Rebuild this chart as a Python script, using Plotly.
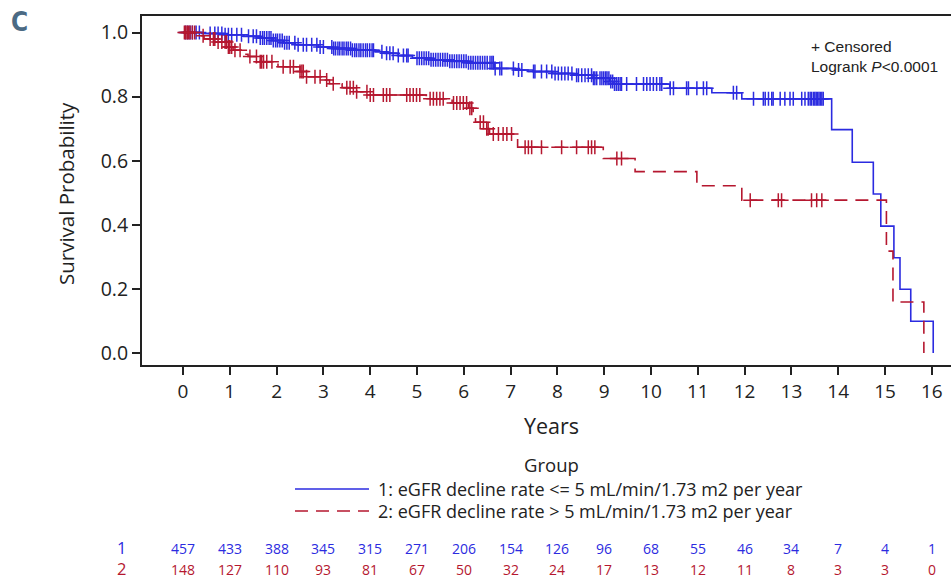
import plotly.graph_objects as go
import numpy as np

# ---------------- data ----------------
years_ticks = list(range(0, 17))

# Group 1 (eGFR decline <= 5): step times and survival levels
g1_times = [0, 0.4, 0.9, 1.3, 1.65, 1.9, 2.15, 2.4, 2.9, 3.2, 3.6, 4.1, 4.3, 4.6, 4.9, 5.3, 5.7, 6.1,
            6.65, 7.1, 7.48, 7.9, 8.33, 8.76, 9.12, 9.19, 10.4, 11.3, 11.94, 13.86, 14.30, 14.75,
            14.91, 15.19, 15.32, 15.55, 16.03]
g1_surv = [1.0, 0.997, 0.993, 0.988, 0.983, 0.975, 0.968, 0.962, 0.955, 0.95, 0.945, 0.94, 0.935,
           0.928, 0.92, 0.915, 0.91, 0.906, 0.888, 0.883, 0.878, 0.872, 0.867, 0.857, 0.847, 0.839,
           0.826, 0.812, 0.793, 0.697, 0.595, 0.496, 0.396, 0.297, 0.199, 0.099, 0.0]
g1_censored = [0.05, 0.10, 0.15, 0.20, 0.28, 0.35, 0.58, 0.68, 0.75, 0.83, 0.90, 0.97, 1.04, 1.15,
               1.25, 1.40, 1.50, 1.57, 1.65, 1.70, 1.74, 1.79, 1.84, 1.88, 1.93, 1.98, 2.02, 2.07,
               2.12, 2.17, 2.22, 2.27, 2.39, 2.46, 2.57, 2.64, 2.75, 2.86, 2.93, 3.00, 3.18, 3.22,
               3.26, 3.31, 3.35, 3.40, 3.44, 3.49, 3.53, 3.58, 3.62, 3.67, 3.71, 3.76, 3.80, 3.85,
               3.90, 3.94, 3.99, 4.04, 4.07, 4.25, 4.35, 4.42, 4.49, 4.60, 4.71, 4.78, 4.81, 5.00,
               5.05, 5.10, 5.15, 5.20, 5.25, 5.30, 5.35, 5.40, 5.45, 5.50, 5.55, 5.60, 5.65, 5.70,
               5.75, 5.80, 5.85, 5.90, 5.95, 6.00, 6.05, 6.10, 6.15, 6.20, 6.25, 6.30, 6.35, 6.40,
               6.45, 6.50, 6.56, 6.60, 6.63, 6.67, 6.77, 6.81, 7.06, 7.17, 7.24, 7.49, 7.52, 7.66,
               7.77, 7.88, 7.95, 8.02, 8.09, 8.16, 8.23, 8.31, 8.41, 8.45, 8.52, 8.59, 8.66, 8.73,
               8.77, 8.80, 8.84, 8.91, 8.95, 8.99, 9.03, 9.06, 9.10, 9.14, 9.18, 9.22, 9.26, 9.30,
               9.34, 9.37, 9.48, 9.69, 9.84, 9.91, 9.98, 10.05, 10.12, 10.19, 10.23, 10.41, 10.48,
               10.76, 10.80, 10.98, 11.12, 11.19, 11.76, 11.83, 12.19, 12.40, 12.44, 12.51, 12.58,
               12.61, 12.76, 12.86, 12.97, 13.04, 13.22, 13.29, 13.36, 13.40, 13.43, 13.47, 13.50,
               13.53, 13.56, 13.59, 13.62, 13.65, 13.68]

# Group 2 (eGFR decline > 5)
g2_times = [0, 0.3, 0.45, 0.7, 0.95, 1.07, 1.3, 1.39, 1.65, 2.03, 2.5, 2.64, 3.0, 3.13, 3.4, 3.71,
            4.0, 5.2, 5.75, 6.1, 6.2, 6.25, 6.45, 6.55, 7.15, 8.98, 9.66, 10.98, 11.94, 15.03,
            15.17, 15.83]
g2_surv = [1.0, 0.99, 0.98, 0.97, 0.955, 0.945, 0.932, 0.925, 0.909, 0.893, 0.878, 0.862, 0.852,
           0.84, 0.828, 0.815, 0.805, 0.793, 0.78, 0.764, 0.74, 0.72, 0.70, 0.683, 0.642, 0.607,
           0.566, 0.522, 0.477, 0.318, 0.159, 0.0]
g2_censored = [0.03, 0.06, 0.09, 0.12, 0.15, 0.20, 0.25, 0.43, 0.58, 0.65, 0.68, 0.75, 0.83, 0.90,
               0.93, 0.97, 1.00, 1.04, 1.11, 1.22, 1.43, 1.57, 1.65, 1.68, 1.72, 1.79, 1.90, 2.14,
               2.29, 2.36, 2.50, 2.54, 2.57, 2.64, 2.82, 2.93, 3.07, 3.21, 3.50, 3.57, 3.64, 3.71,
               3.93, 4.00, 4.07, 4.28, 4.35, 4.42, 4.78, 4.85, 4.92, 4.99, 5.06, 5.28, 5.35, 5.42,
               5.49, 5.56, 5.78, 5.85, 5.92, 5.99, 6.06, 6.13, 6.17, 6.35, 6.42, 6.49, 6.52, 6.63,
               6.74, 6.84, 6.92, 7.02, 7.31, 7.38, 7.45, 7.66, 8.09, 8.41, 8.66, 8.73, 8.80, 9.27,
               9.37, 12.12, 12.72, 12.79, 13.43, 13.54, 13.65]

at_risk_1 = [457, 433, 388, 345, 315, 271, 206, 154, 126, 96, 68, 55, 46, 34, 7, 4, 1]
at_risk_2 = [148, 127, 110, 93, 81, 67, 50, 32, 24, 17, 13, 12, 11, 8, 3, 3, 0]

group_labels = ["1: eGFR decline rate <= 5 mL/min/1.73 m2 per year",
                "2: eGFR decline rate > 5 mL/min/1.73 m2 per year"]

BLUE = "#2b2be0"
RED = "#b5172f"
FONT = "Open Sans, Noto Sans, DejaVu Sans, sans-serif"


def surv_at(times, surv, t):
    idx = np.searchsorted(np.array(times), t, side="right") - 1
    return surv[max(idx, 0)]


fig = go.Figure()

# Step curves
fig.add_trace(go.Scatter(x=g1_times, y=g1_surv, mode="lines", line_shape="hv",
                         line=dict(color=BLUE, width=1.6), showlegend=False, hoverinfo="skip"))
fig.add_trace(go.Scatter(x=g2_times, y=g2_surv, mode="lines", line_shape="hv",
                         line=dict(color=RED, width=1.6, dash="13px,8px"), showlegend=False,
                         hoverinfo="skip"))

# Censor marks
fig.add_trace(go.Scatter(x=g1_censored, y=[surv_at(g1_times, g1_surv, t) for t in g1_censored],
                         mode="markers",
                         marker=dict(symbol="cross-thin-open", size=10, color=BLUE,
                                     line=dict(color=BLUE, width=1.5)),
                         showlegend=False, hoverinfo="skip"))
fig.add_trace(go.Scatter(x=g2_censored, y=[surv_at(g2_times, g2_surv, t) for t in g2_censored],
                         mode="markers",
                         marker=dict(symbol="cross-thin-open", size=10, color=RED,
                                     line=dict(color=RED, width=1.5)),
                         showlegend=False, hoverinfo="skip"))

L, R, T, B = 142, 0, 16, 215
W, H = 951, 580
pw, ph = W - L - R, H - T - B


def px(xp):
    return (xp - L) / pw


def py(yp):
    return (H - B - yp) / ph


fig.update_layout(
    width=W, height=H,
    margin=dict(l=L, r=R, t=T, b=B, autoexpand=False),
    paper_bgcolor="white", plot_bgcolor="white",
    font=dict(family=FONT, color="#222"),
    xaxis=dict(range=[-0.876, 16.41], tickvals=years_ticks, ticks="outside", ticklen=8,
               tickwidth=1.5, tickcolor="#222", showline=True, linecolor="#222", linewidth=2,
               mirror=True, showgrid=False, zeroline=False,
               tickfont=dict(size=19, family=FONT, color="#222")),
    yaxis=dict(range=[-0.0374, 1.0515], tickvals=[0, 0.2, 0.4, 0.6, 0.8, 1.0], tickformat=".1f",
               ticks="outside", ticklen=8, tickwidth=1.5, tickcolor="#222", showline=True,
               linecolor="#222", linewidth=2, showgrid=False, zeroline=False,
               tickfont=dict(size=19.5, family=FONT, color="#222")),
)


def note(text, xp, yp, size, color="#222", xanchor="center", family=FONT, **kw):
    return dict(text=text, x=px(xp), y=py(yp), xref="paper", yref="paper",
                xanchor=xanchor, yanchor="middle", showarrow=False,
                font=dict(size=size, family=family, color=color), **kw)


ann = []
# Panel label
ann.append(note("<b>C</b>", 9, 22, 26, color="#4b6a84", xanchor="left",
                family="DejaVu Sans Condensed, Roboto, sans-serif"))
# Axis titles
ann.append(note("Years", 551, 425, 21.5))
ann.append(note("Survival Probability", 66, 194, 20.5, textangle=-90))
# Censored / logrank
ann.append(note("+ Censored", 809, 46, 15.5, xanchor="left",
                family="Liberation Sans, Arial, sans-serif"))
ann.append(note("Logrank <i>P</i><0.0001", 809, 66, 15.5, xanchor="left",
                family="Liberation Sans, Arial, sans-serif"))
# Legend
ann.append(note("Group", 551, 465, 18.5))
for lab, yy in zip(group_labels, [489, 511]):
    ann.append(note(lab, 376, yy, 18, xanchor="left"))
shapes = [
    dict(type="line", xref="paper", yref="paper", x0=px(295), x1=px(369), y0=py(489), y1=py(489),
         line=dict(color=BLUE, width=1.6)),
    dict(type="line", xref="paper", yref="paper", x0=px(295), x1=px(369), y0=py(511), y1=py(511),
         line=dict(color=RED, width=1.6, dash="13px,8px")),
]
# Risk table
ann.append(note("1", 121, 547, 16.5, color=BLUE))
ann.append(note("2", 121, 568, 16.5, color=RED))
for t, n1, n2 in zip(years_ticks, at_risk_1, at_risk_2):
    ann.append(dict(text=str(n1), x=t, y=py(548), xref="x", yref="paper", showarrow=False,
                    xanchor="center", yanchor="middle",
                    font=dict(size=14, family=FONT, color=BLUE)))
    ann.append(dict(text=str(n2), x=t, y=py(569), xref="x", yref="paper", showarrow=False,
                    xanchor="center", yanchor="middle",
                    font=dict(size=14, family=FONT, color=RED)))

fig.update_layout(annotations=ann, shapes=shapes)
fig.write_html("out.html", config={"displayModeBar": False},
               post_script="document.body.style.margin='0';document.body.style.overflow='hidden';")
